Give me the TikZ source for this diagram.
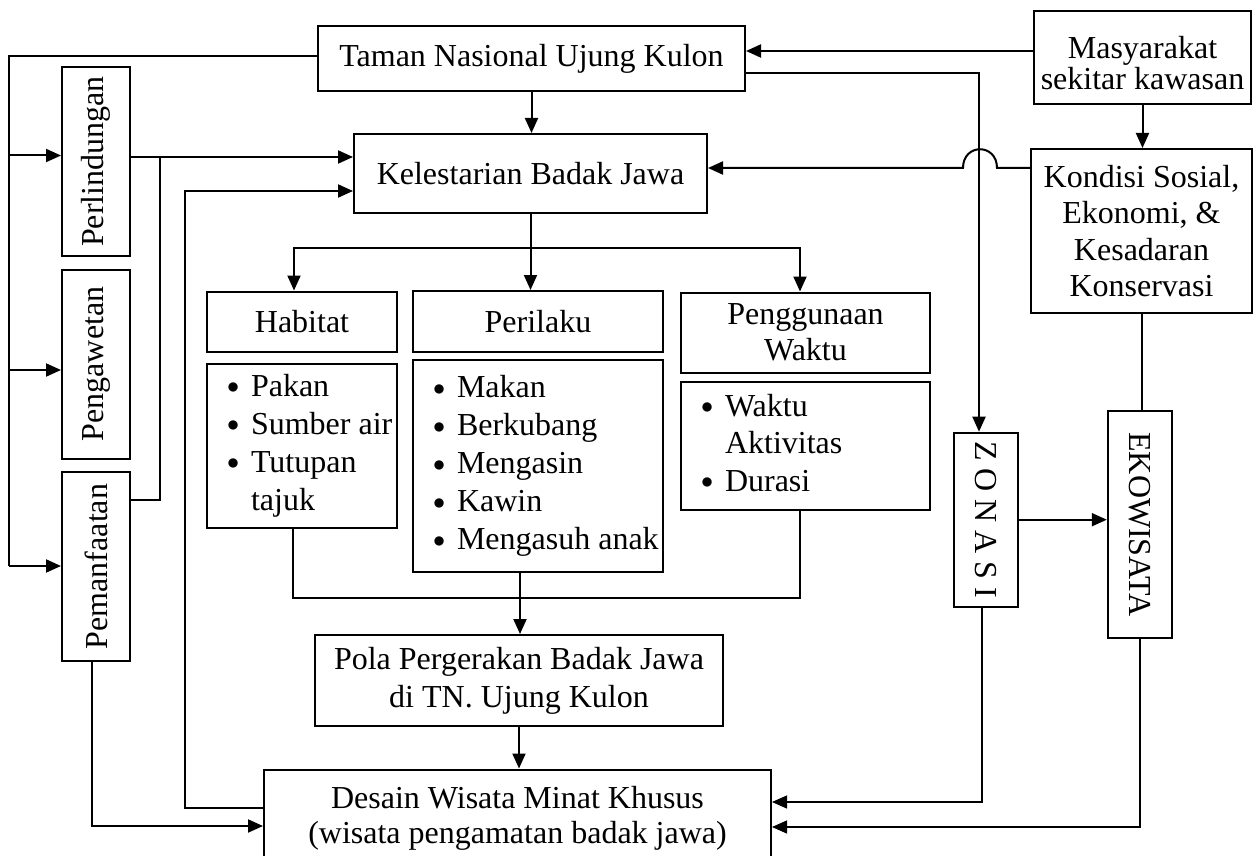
\documentclass[tikz,border=0pt]{standalone}
\usepackage{fontspec}
\usepackage{graphicx}
\setmainfont{Liberation Serif}
\usetikzlibrary{arrows.meta}
\newcommand{\dotitem}{\makebox[12pt][l]{\raisebox{1.2pt}{\scalebox{0.7}{$\bullet$}}}}

\begin{document}
\begin{tikzpicture}[x=0.5pt, y=-0.5pt,
    box/.style={draw, line width=1pt, inner sep=0pt, align=center, font=\fontsize{16}{19}\selectfont},
    list/.style={box, align=left, inner xsep=10pt},
    arr/.style={line width=1pt, -{Triangle[length=7.5pt,width=6.5pt]}},
    link/.style={line width=1pt},
    feed/.style={line width=0.6pt}]
    \useasboundingbox (0,0) rectangle (1254,856);
    \clip (0,0) rectangle (1254,856);

    % boxes
    \node[box, minimum width=213.5pt, minimum height=32.5pt] (taman) at (531.5,58.5) {Taman Nasional Ujung Kulon};
    \node[box, minimum width=108.5pt, minimum height=46.5pt, font=\fontsize{16}{15.5}\selectfont] (masy) at (1142.5,57.5) {\rule{0pt}{17pt}Masyarakat\\sekitar kawasan};
    \node[box, minimum width=176.5pt, minimum height=39.5pt] (kel) at (530.5,173.5) {Kelestarian Badak Jawa};
    \node[box, minimum width=110.5pt, minimum height=82pt, font=\fontsize{16}{18.3}\selectfont] (kondisi) at (1141.5,231) {Kondisi Sosial,\\Ekonomi, \&\\Kesadaran\\Konservasi};

    \node[box, rotate=90, minimum width=94.5pt, minimum height=34pt] (lindung) at (96,161.5) {Perlindungan};
    \node[box, rotate=90, minimum width=94.5pt, minimum height=34pt] (awet) at (96,364) {Pengawetan};
    \node[box, rotate=90, minimum width=94.5pt, minimum height=34pt] (manfaat) at (96,566.5) {Pemanfaatan};

    \node[box, minimum width=95pt, minimum height=30.25pt] (habitat) at (302,321.75) {Habitat};
    \node[box, minimum width=125pt, minimum height=30.25pt] (perilaku) at (538,321.25) {Perilaku};
    \node[box, minimum width=124.5pt, minimum height=40.25pt, font=\fontsize{16}{18}\selectfont] (guna) at (805.5,332.75) {Penggunaan\\Waktu};

    \node[list, text width=75pt, minimum height=81.75pt] (habList) at (302,445.75)
        {\spaceskip=0pt\xspaceskip=0pt\begin{tabular}{@{}l@{}l@{}}\dotitem & Pakan\\ \dotitem & Sumber air\\ \dotitem & Tutupan\\ & tajuk\end{tabular}};
    \node[list, text width=105pt, minimum height=106pt] (periList) at (538,466)
        {\spaceskip=0pt\xspaceskip=0pt\begin{tabular}{@{}l@{}l@{}}\dotitem & Makan\\ \dotitem & Berkubang\\ \dotitem & Mengasin\\ \dotitem & Kawin\\ \dotitem & Mengasuh anak\end{tabular}};
    \node[list, text width=104.5pt, minimum height=64pt, font=\fontsize{16}{18.75}\selectfont] (gunaList) at (805.5,446)
        {\spaceskip=0pt\xspaceskip=0pt\begin{tabular}{@{}l@{}l@{}}\dotitem & Waktu\\ & Aktivitas\\ \dotitem & Durasi\end{tabular}};

    \node[box, minimum width=204pt, minimum height=45.5pt] (pola) at (519,680.5) {Pola Pergerakan Badak Jawa\\di TN. Ujung Kulon};
    \node[box, minimum width=253.5pt, minimum height=48.5pt, font=\fontsize{16}{17.5}\selectfont] (desain) at (517.5,818) {Desain Wisata Minat Khusus\\(wisata pengamatan badak jawa)};

    \node[box, rotate=-90, minimum width=87pt, minimum height=32pt] (zonasi) at (986,519.7) {Z O N A S I};
    \node[box, rotate=-90, minimum width=113.3pt, minimum height=32.2pt] (eko) at (1140,524.4) {EKOWISATA};

    % top and right side
    \draw[arr] (masy.west |- 0,51) -- (taman.east |- 0,51);
    \draw[arr] (masy.south) -- (masy.south |- kondisi.north);
    \draw[link] (kondisi.south) -- (kondisi.south |- eko.west);
    \draw[arr] (taman.south) -- (taman.south |- kel.north);
    \draw[arr] (taman.east |- 0,73) -| (979,0 |- zonasi.west);
    \draw[arr] (kondisi.west |- 0,168) -- (997,168) .. controls (997,143) and (963,143) .. (963,168) -- (kel.east |- 0,168);

    % left bus
    \coordinate (busTop) at (9,56);
    \coordinate (busBot) at (9,566);
    \draw[link] (taman.west |- busTop) -- (busTop) -- (busBot);
    \draw[arr] (busTop |- 0,155.5) -- (lindung.north |- 0,155.5);
    \draw[arr] (busTop |- 0,370) -- (awet.north |- 0,370);
    \draw[arr] (busBot) -- (manfaat.north |- busBot);

    % into kelestarian from the left
    \coordinate (joinL) at (160,157);
    \draw[arr] (lindung.south |- joinL) -- (kel.west |- joinL);
    \draw[link] (manfaat.south |- 0,500) -| (joinL);
    \draw[arr] (desain.west |- 0,808) -| (185,191) -- (kel.west |- 0,191);
    \draw[arr] (91.5,0 |- manfaat.west) |- (desain.west |- 0,826);

    % fork
    \coordinate (fork) at (kel.south |- 0,248);
    \draw[arr] (kel.south) -- (kel.south |- perilaku.north);
    \draw[arr] (fork) -| (294,0 |- habitat.north);
    \draw[arr] (fork) -| (800,0 |- guna.north);

    % collector
    \coordinate (colL) at (293,597.5);
    \coordinate (colR) at (800,597.5);
    \draw[link] (habList.south -| colL) -- (colL) -- (colR) -- (gunaList.south -| colR);
    \draw[arr] (periList.south -| 520,0) -- (pola.north -| 520,0);
    \draw[arr] (pola.south) -- (pola.south |- desain.north);

    % zonasi, ekowisata
    \draw[arr] (zonasi.north) -- (zonasi.north -| eko.south);
    \draw[arr, feed] (982,0 |- zonasi.east) |- (desain.east |- 0,802);
    \draw[arr, feed] (eko.east) |- (desain.east |- 0,827);
\end{tikzpicture}
\end{document}
